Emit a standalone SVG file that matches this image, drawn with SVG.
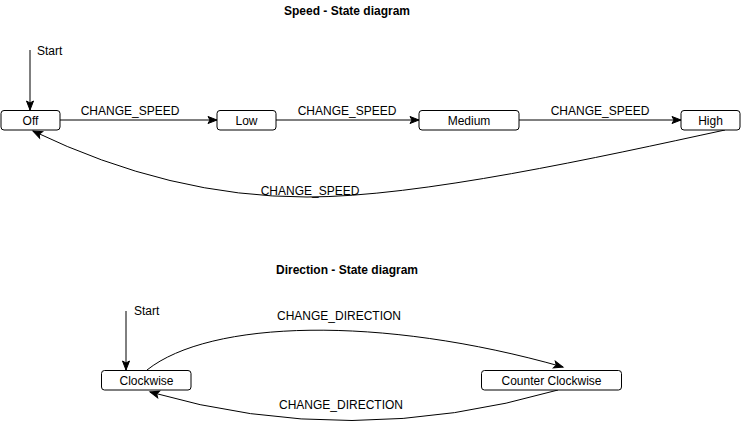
<svg xmlns="http://www.w3.org/2000/svg" width="741" height="422" viewBox="0 0 741 422">
  <style>
    text { font-family: "Liberation Sans", Arial, Helvetica, sans-serif; font-size: 12px; fill: #000; }
    .title { font-weight: bold; text-anchor: middle; }
    .lbl { text-anchor: middle; }
    .node rect { fill: #fff; stroke: #000; stroke-width: 1; }
    .node text { text-anchor: middle; }
    .edge { fill: none; stroke: #000; stroke-width: 1; marker-end: url(#arrow); }
  </style>
  <defs>
    <marker id="arrow" markerUnits="userSpaceOnUse" markerWidth="10" markerHeight="8" refX="9" refY="3.5" orient="auto" overflow="visible">
      <path d="M0,0 L9,3.5 L0,7 L2,3.5 Z" fill="#000" stroke="#000" stroke-width="1" stroke-linejoin="miter"/>
    </marker>
  </defs>
  <rect width="741" height="422" fill="#fff"/>

  <text class="title" x="347" y="15">Speed - State diagram</text>
  <text class="title" x="347" y="274">Direction - State diagram</text>

  <g id="connectors">
    <path class="edge" d="M30,50 L30,110"/>
    <path class="edge" d="M60,120 L217,120"/>
    <path class="edge" d="M276,120 L419,120"/>
    <path class="edge" d="M519,120 L681,120"/>
    <path class="edge" d="M725,130 C600,157 420,197 307,197 Q170,197 33,131"/>
    <path class="edge" d="M126,311 L126,370"/>
    <path class="edge" d="M147,370 C210,320 380,315 563,367"/>
    <path class="edge" d="M558,390 Q350,450 150,392"/>
    <text x="37" y="55">Start</text>
    <text x="134" y="315">Start</text>
    <text class="lbl" x="130" y="115">CHANGE_SPEED</text>
    <text class="lbl" x="347" y="115">CHANGE_SPEED</text>
    <text class="lbl" x="600" y="115">CHANGE_SPEED</text>
    <text class="lbl" x="310" y="195">CHANGE_SPEED</text>
    <text class="lbl" x="339" y="320">CHANGE_DIRECTION</text>
    <text class="lbl" x="341" y="409">CHANGE_DIRECTION</text>
  </g>

  <g id="off" class="node"><rect x="1" y="110.5" width="59" height="19.5" rx="3"/><text x="30.5" y="124.5">Off</text></g>
  <g id="low" class="node"><rect x="217" y="110.5" width="59" height="19.5" rx="3"/><text x="246.5" y="124.5">Low</text></g>
  <g id="medium" class="node"><rect x="419" y="110.5" width="100" height="19.5" rx="3"/><text x="469" y="124.5">Medium</text></g>
  <g id="high" class="node"><rect x="681" y="110.5" width="59" height="19.5" rx="3"/><text x="710.5" y="124.5">High</text></g>
  <g id="clockwise" class="node"><rect x="101.5" y="370.5" width="89.5" height="19.5" rx="3"/><text x="146.5" y="384.5">Clockwise</text></g>
  <g id="counter-clockwise" class="node"><rect x="481.5" y="370.5" width="140" height="19.5" rx="3"/><text x="551.5" y="384.5">Counter Clockwise</text></g>
</svg>
